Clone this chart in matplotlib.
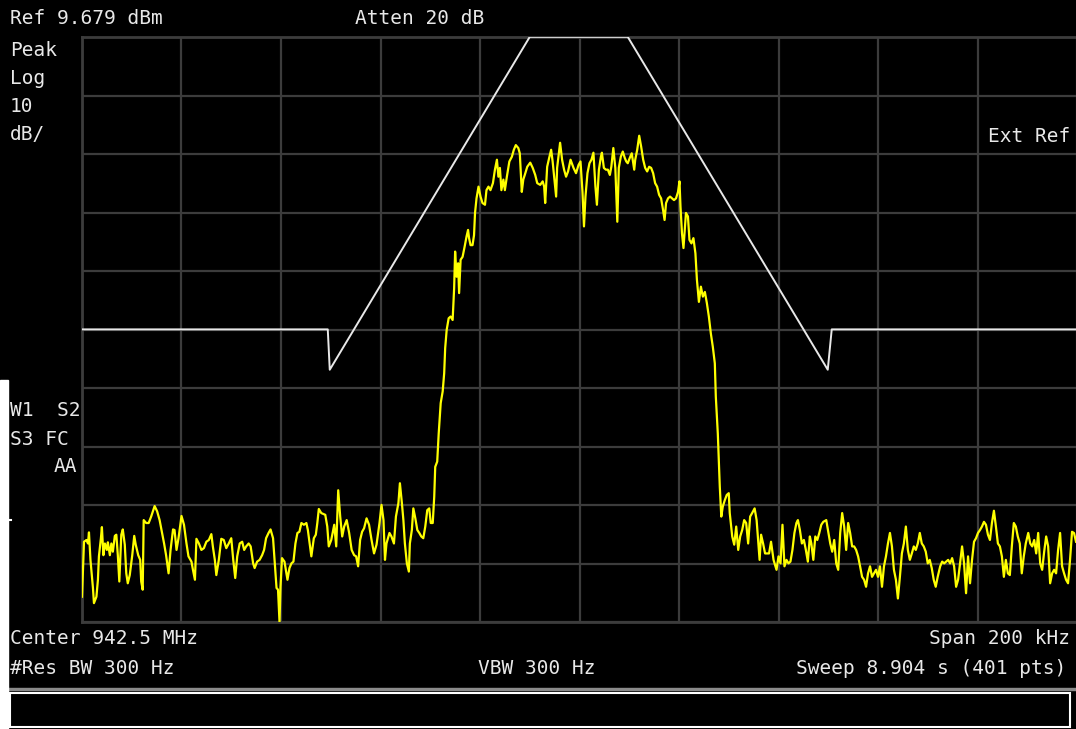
import numpy as np
import matplotlib
matplotlib.use("Agg")
import matplotlib.pyplot as plt
from matplotlib.patches import Rectangle
from matplotlib.lines import Line2D

# trace readings: offset from centre (kHz) and level (dBm)
seg_a_khz = [-100.0, -99.8, -99.6, -99.1, -98.8, -98.6, -98.3, -97.8, -97.6, -97.1,
             -96.8, -96.6, -96.2, -96.0, -95.7, -95.4, -95.0, -94.8, -94.4, -94.1,
             -93.8, -93.4, -93.1, -92.8, -92.5, -92.1, -91.8, -91.4, -91.1, -90.8,
             -90.4, -89.9, -89.5, -89.2, -88.7, -88.3, -88.1, -87.8, -87.6, -87.1,
             -86.6, -86.1, -85.4, -84.9, -84.4, -83.9, -83.5, -83.1, -82.6, -82.2,
             -81.7, -81.4, -81.0, -80.6, -80.0, -79.5, -79.0, -78.6, -78.0, -77.7,
             -77.3, -77.0, -76.5, -76.0, -75.5, -75.0, -74.5, -74.0, -73.7, -73.3,
             -73.0, -72.5, -72.0, -71.5, -71.0, -70.5, -70.0, -69.6, -69.2, -68.8,
             -68.3, -67.8, -67.4, -67.0, -66.5, -66.1, -65.6, -65.3, -64.8, -64.3,
             -63.8, -63.4, -63.0, -62.5, -62.1, -61.6, -61.3, -60.9, -60.6, -60.3,
             -60.1, -59.8, -59.3, -58.7, -58.3, -57.9, -57.5, -57.1, -56.7, -56.3,
             -55.9, -55.4, -54.9, -54.6, -54.2, -53.9, -53.4, -53.0, -52.7, -52.4,
             -51.9, -51.1, -50.7, -50.4, -49.9, -49.3]
seg_a_dbm = [-86.0, -81.4, -76.6, -76.3, -76.9, -75.0, -79.7, -84.5, -87.1, -86.0,
             -83.1, -79.1, -76.0, -74.1, -78.9, -76.9, -78.0, -76.7, -78.9, -76.9,
             -78.3, -75.6, -75.4, -78.9, -83.4, -75.4, -74.5, -77.1, -82.0, -83.7,
             -82.3, -78.9, -75.6, -77.1, -78.9, -79.7, -83.4, -84.8, -72.9, -73.4,
             -73.4, -72.3, -70.5, -71.4, -72.9, -75.1, -76.9, -78.9, -82.0, -78.0,
             -74.5, -74.6, -78.0, -76.0, -72.2, -73.7, -76.9, -79.1, -80.0, -81.4,
             -83.1, -76.1, -76.9, -78.0, -77.7, -76.6, -76.3, -75.3, -77.4, -79.7,
             -82.3, -79.7, -76.1, -76.3, -77.7, -76.9, -76.0, -79.7, -82.8, -79.1,
             -76.9, -76.6, -78.0, -77.4, -76.9, -77.4, -80.3, -81.1, -80.0, -79.7,
             -78.9, -78.0, -76.0, -75.1, -74.5, -76.0, -79.7, -84.5, -84.8, -90.3,
             -84.3, -79.4, -80.0, -83.1, -81.1, -80.3, -80.0, -76.9, -75.1, -74.9,
             -73.4, -73.7, -73.4, -74.6, -77.1, -79.1, -76.0, -75.4, -73.4, -71.0,
             -71.7, -72.0, -74.0, -77.4, -76.3, -73.7]

seg_b_khz = [-48.9, -48.5, -48.1, -47.7, -47.3, -46.8, -46.3, -45.8, -45.3, -44.9,
             -44.5, -44.1, -43.7, -43.3, -42.8, -42.3, -41.8, -41.3, -40.8, -40.2,
             -39.8, -39.4, -39.1, -38.8, -38.2, -37.8, -37.3, -36.9, -36.4, -36.1,
             -35.7, -35.4, -35.1, -34.7, -34.3, -34.1, -33.7, -33.4, -33.0, -32.6,
             -32.2, -31.8, -31.4, -31.0, -30.6, -30.2, -29.9, -29.5, -29.2, -29.0,
             -28.6, -28.3, -27.9, -27.5, -27.2, -27.0, -26.7, -26.3, -25.9, -25.5,
             -25.2, -25.0, -24.7, -24.4, -24.2, -23.9, -23.5, -23.1, -22.7, -22.4,
             -22.2, -21.9, -21.5, -21.2, -21.0, -20.7, -20.3, -19.9, -19.5, -19.0,
             -18.7, -18.3, -17.9, -17.4, -17.0, -16.6, -16.3, -16.0, -15.7, -15.3,
             -15.0, -14.6, -14.1, -13.6, -13.2, -12.8, -12.3, -12.0, -11.6, -11.3,
             -11.0, -10.5, -9.9, -9.4, -8.9, -8.5, -7.9, -7.4, -7.1, -6.9,
             -6.5, -6.1, -5.7, -5.4, -5.0, -4.7, -4.5, -3.9, -3.5, -3.1,
             -2.7, -2.3, -1.8, -1.2, -0.7, -0.2]
seg_b_dbm = [-77.4, -67.8, -72.3, -75.7, -74.0, -72.9, -75.1, -78.0, -78.9, -79.1,
             -80.8, -76.3, -74.9, -74.3, -72.6, -73.7, -76.3, -78.6, -77.1, -73.4,
             -70.3, -72.9, -79.7, -76.9, -75.1, -75.7, -76.9, -72.3, -70.0, -66.6,
             -70.0, -72.9, -76.9, -80.3, -81.7, -76.9, -74.6, -70.9, -72.6, -74.6,
             -75.1, -75.7, -76.0, -74.0, -71.2, -70.9, -73.4, -73.4, -68.9, -63.8,
             -62.9, -58.1, -52.9, -50.9, -47.8, -43.5, -40.4, -38.4, -38.1, -38.7,
             -33.3, -27.0, -31.3, -29.0, -34.1, -28.4, -27.9, -26.2, -24.4, -23.3,
             -24.7, -25.9, -25.9, -24.2, -20.4, -17.9, -15.9, -17.6, -18.7, -19.0,
             -16.5, -15.9, -16.5, -15.3, -13.0, -11.3, -14.2, -12.7, -16.5, -14.7,
             -16.5, -14.2, -11.6, -10.8, -9.6, -8.8, -9.3, -10.2, -16.8, -14.7,
             -13.9, -12.5, -11.8, -12.7, -13.9, -15.3, -15.6, -15.0, -15.9, -18.7,
             -12.5, -11.0, -9.6, -11.6, -15.0, -17.6, -12.7, -8.4, -11.3, -13.0,
             -14.2, -13.3, -11.3, -12.7, -13.6, -12.2]

seg_c_khz = [0.2, 0.6, 0.9, 1.2, 1.6, 2.0, 2.4, 2.8, 3.2, 3.5,
             3.9, 4.3, 4.5, 4.9, 5.3, 5.7, 6.1, 6.4, 6.8, 7.2,
             7.6, 7.9, 8.3, 8.7, 9.1, 9.4, 9.7, 10.1, 10.5, 11.0,
             11.2, 11.6, 12.0, 12.4, 12.8, 13.2, 13.6, 14.0, 14.4, 14.8,
             15.2, 15.6, 16.0, 16.4, 16.8, 17.1, 17.4, 17.8, 18.2, 18.6,
             19.0, 19.4, 19.8, 20.1, 20.3, 20.6, 20.9, 21.1, 21.4, 21.8,
             22.1, 22.5, 22.9, 23.3, 23.6, 24.0, 24.4, 24.8, 25.2, 25.6,
             26.0, 26.4, 26.8, 27.2, 27.4, 27.8, 28.2, 28.5, 28.8, 29.2,
             29.6, 30.0, 30.2, 30.7, 31.1, 31.5, 31.9, 32.3, 32.7, 33.1,
             33.5, 33.9, 34.3, 34.7, 35.2, 35.6, 35.9, 36.2, 36.5, 36.9,
             37.3, 37.7, 38.1, 38.5, 39.0, 39.4, 39.6, 40.0, 40.4, 40.8,
             41.2, 41.6, 42.0, 42.4, 42.8, 43.2, 43.6, 43.9, 44.3, 44.7,
             45.1, 45.5, 45.9, 46.3, 46.6, 47.0, 47.4, 47.8, 48.2, 48.6,
             49.0, 49.6]
seg_c_dbm = [-11.6, -16.8, -22.7, -17.6, -13.6, -11.9, -11.3, -10.1, -15.9, -19.0,
             -13.0, -10.8, -10.1, -12.7, -13.0, -13.0, -13.9, -12.5, -9.3, -12.7,
             -21.9, -12.7, -10.8, -9.9, -11.0, -11.6, -11.9, -11.0, -10.2, -13.0,
             -11.3, -9.6, -7.2, -9.1, -11.3, -12.7, -13.3, -12.5, -12.7, -13.6,
             -15.3, -15.9, -17.3, -17.9, -19.9, -21.6, -18.7, -17.9, -17.6, -17.9,
             -18.2, -17.9, -16.8, -15.0, -19.3, -23.9, -26.4, -23.9, -20.4, -21.0,
             -25.0, -25.6, -24.7, -27.3, -31.8, -35.6, -33.0, -34.7, -33.9, -35.8,
             -38.1, -41.0, -43.3, -46.1, -51.8, -58.1, -67.2, -72.3, -70.6, -69.5,
             -68.6, -68.3, -71.7, -75.7, -77.1, -74.0, -78.0, -75.7, -74.6, -72.9,
             -73.4, -76.9, -72.3, -71.7, -70.9, -72.9, -76.3, -79.7, -75.4, -76.9,
             -78.6, -78.6, -78.6, -76.6, -79.7, -80.8, -81.4, -79.1, -80.3, -73.7,
             -80.8, -79.7, -80.3, -80.0, -78.0, -75.1, -73.4, -72.9, -74.6, -76.9,
             -76.3, -78.0, -80.0, -75.7, -76.9, -79.7, -75.7, -76.3, -75.1, -73.7,
             -73.2, -72.9]

seg_d_khz = [50.4, 50.8, 51.2, 51.6, 52.0, 52.4, 52.8, 53.2, 53.6, 54.0,
             54.4, 54.8, 55.2, 55.6, 56.0, 56.4, 56.8, 57.2, 57.6, 58.0,
             58.4, 58.8, 59.2, 59.6, 60.0, 60.4, 60.8, 61.2, 61.6, 62.0,
             62.4, 62.8, 63.2, 63.6, 64.0, 64.4, 64.8, 65.2, 65.6, 66.0,
             66.4, 66.8, 67.2, 67.6, 68.0, 68.4, 68.8, 69.2, 69.6, 70.0,
             70.4, 70.8, 71.2, 71.6, 72.0, 72.5, 72.9, 73.3, 73.7, 74.1,
             74.5, 74.9, 75.3, 75.7, 76.1, 76.5, 76.9, 77.3, 77.7, 78.1,
             78.5, 78.9, 79.3, 79.7, 80.1, 80.5, 80.9, 81.3, 81.7, 82.1,
             82.5, 82.9, 83.3, 83.7, 84.1, 84.5, 84.9, 85.3, 85.7, 86.1,
             86.5, 86.9, 87.3, 87.7, 88.1, 88.5, 88.9, 89.3, 89.7, 90.2,
             90.6, 91.0, 91.4, 91.8, 92.2, 92.6, 93.0, 93.4, 93.8, 94.2,
             94.6, 95.0, 95.4, 95.8, 96.2, 96.6, 97.0, 97.4, 97.8, 98.2,
             98.6, 99.0, 99.4, 99.8]
seg_d_dbm = [-76.9, -78.3, -76.3, -80.3, -81.4, -75.1, -71.7, -74.0, -78.0, -73.4,
             -75.1, -77.4, -77.4, -78.0, -79.1, -80.8, -82.6, -83.1, -84.3, -82.0,
             -80.8, -82.6, -82.0, -81.4, -82.6, -80.8, -84.3, -80.8, -79.1, -76.9,
             -75.1, -77.4, -81.4, -83.1, -86.3, -82.6, -78.6, -76.9, -74.0, -78.0,
             -79.7, -78.6, -77.4, -78.0, -76.9, -75.1, -76.9, -77.4, -78.3, -80.3,
             -79.7, -81.1, -83.1, -84.3, -82.6, -80.8, -80.0, -80.3, -80.0, -79.7,
             -80.3, -79.4, -80.8, -84.3, -83.1, -80.3, -77.4, -80.3, -85.4, -79.1,
             -83.7, -79.7, -76.6, -76.0, -75.1, -74.6, -74.0, -73.2, -73.7, -75.4,
             -76.3, -73.4, -71.3, -74.0, -76.9, -77.4, -79.1, -82.6, -79.7, -82.0,
             -82.3, -77.4, -73.4, -74.0, -75.7, -76.9, -82.0, -79.1, -76.9, -75.1,
             -76.9, -77.4, -76.3, -78.6, -75.1, -80.3, -81.4, -78.3, -75.7, -77.4,
             -83.7, -82.0, -81.4, -82.0, -78.0, -75.1, -80.8, -82.0, -83.1, -83.7,
             -79.7, -74.9, -75.1, -76.6]

# limit line (mask)
limit_khz = [-100.0, -50.6, -50.2, -10.0, 9.7, 49.9, 50.7, 100.0]
limit_dbm = [-40.3, -40.3, -47.2, 9.7, 9.7, -47.2, -40.3, -40.3]

ref_level = 9.679
db_per_div = 10

W, H = 1076, 729
fig = plt.figure(figsize=(W / 100, H / 100), dpi=100, facecolor="black")

def px(x, y):
    return x / W, 1 - y / H

x0, x1, y0, y1 = 82, 1077, 37, 622
ax = fig.add_axes([x0 / W, 1 - y1 / H, (x1 - x0) / W, (y1 - y0) / H])
ax.set_facecolor("black")

trace_khz = seg_a_khz + seg_b_khz + seg_c_khz + seg_d_khz
trace_dbm = seg_a_dbm + seg_b_dbm + seg_c_dbm + seg_d_dbm

ax.plot(limit_khz, limit_dbm, color="#e8e8e8", lw=1.4, zorder=3)
ax.plot(trace_khz, trace_dbm, color="#ffff00", lw=1.6, zorder=4)

ax.set_xlim(-100, 100)
ax.set_ylim(ref_level - 10 * db_per_div, ref_level)
ax.set_xticks(np.linspace(-100, 100, 11))
ax.set_yticks(ref_level - db_per_div * np.arange(11))
ax.tick_params(length=0, labelbottom=False, labelleft=False)
ax.grid(True, color="#3c3c3c", lw=1.6)
for s in ax.spines.values():
    s.set_color("#3c3c3c")
    s.set_linewidth(2)

font = dict(family="DejaVu Sans Mono", size=14, color="#e8e8e8", va="center")

def label(x, y, s, ha="left"):
    fig.text(*px(x, y), s, ha=ha, **font)

label(10, 19, "Ref 9.679 dBm")
label(355, 19, "Atten 20 dB")
label(10, 50, "Peak")
label(10, 78, "Log")
label(10, 107, "10")
label(10, 134, "dB/")
label(1070, 136, "Ext Ref", ha="right")
label(10, 411, "W1  S2")
label(10, 440, "S3 FC")
label(77, 467, "AA", ha="right")
label(10, 638, "Center 942.5 MHz")
label(1070, 638, "Span 200 kHz", ha="right")
label(10, 668, "#Res BW 300 Hz")
label(478, 668, "VBW 300 Hz")
label(1066, 668, "Sweep 8.904 s (401 pts)", ha="right")

# status bar at the bottom
fig.add_artist(Rectangle(px(8, 690), (W - 8) / W, 2.5 / H, color="#8a8a8a", transform=fig.transFigure))
fig.add_artist(Rectangle(px(10, 727), 1060 / W, 34 / H, facecolor="black", edgecolor="white", lw=1.5, transform=fig.transFigure))
# white strip at the left edge, with the small marker beside the graticule
fig.add_artist(Rectangle((0, 0), 8 / W, 1 - 380 / H, color="white", transform=fig.transFigure))
fig.add_artist(Line2D([8 / W, 11 / W], [1 - 520 / H, 1 - 520 / H], color="white", lw=1.5, transform=fig.transFigure))

fig.savefig("out.png", dpi=100, facecolor="black")
